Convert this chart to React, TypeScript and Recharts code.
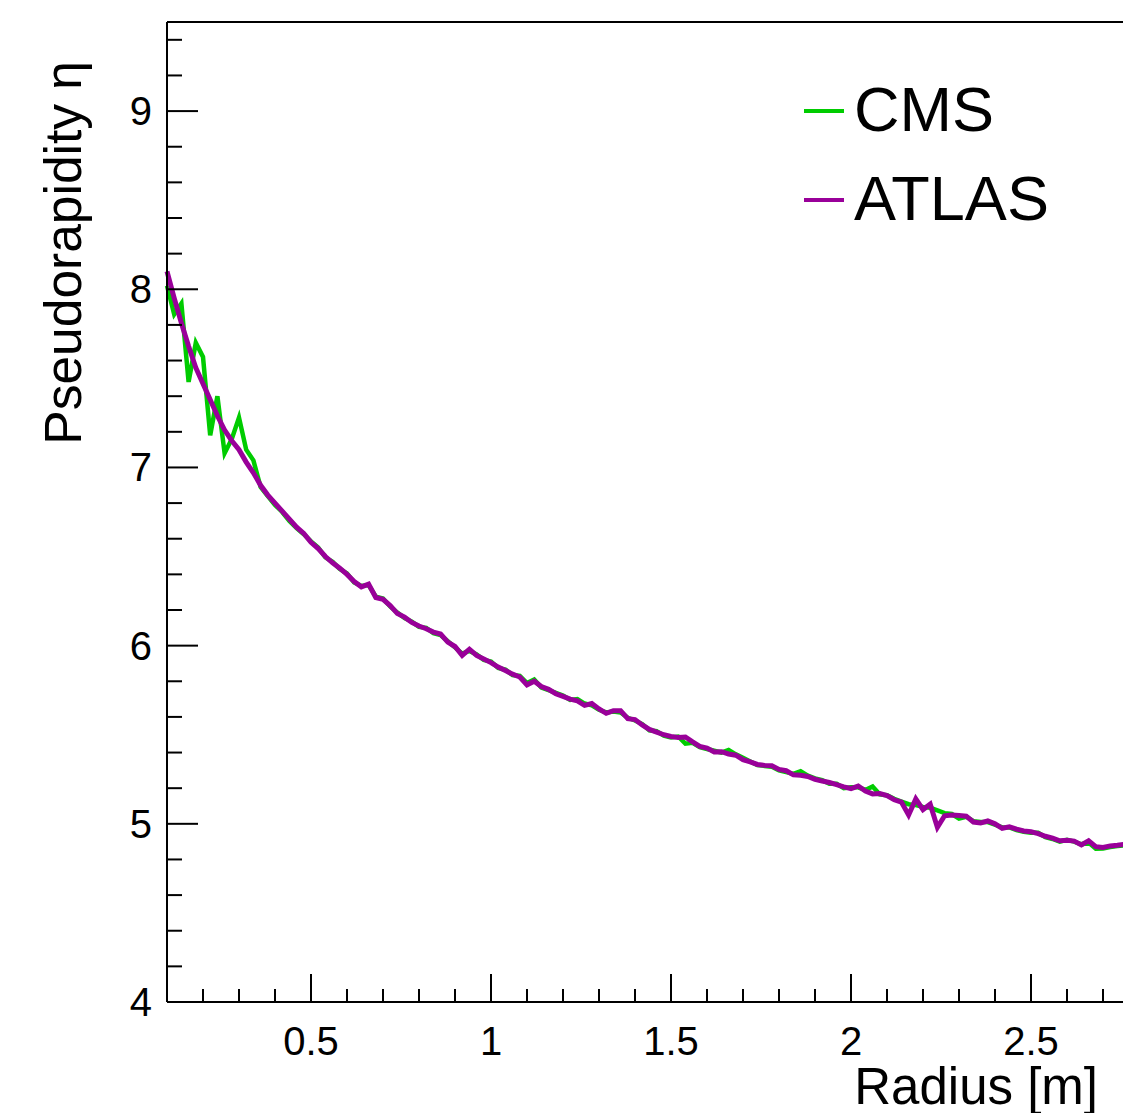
import React from "react";
import {
  LineChart,
  Line,
  XAxis,
  YAxis,
  Legend,
  ReferenceLine,
} from "recharts";

// Radius bins [m], every 0.02 m
const radius = [
  0.1, 0.12, 0.14, 0.16, 0.18, 0.2, 0.22, 0.24, 0.26, 0.28,
  0.3, 0.32, 0.34, 0.36, 0.38, 0.4, 0.42, 0.44, 0.46, 0.48,
  0.5, 0.52, 0.54, 0.56, 0.58, 0.6, 0.62, 0.64, 0.66, 0.68,
  0.7, 0.72, 0.74, 0.76, 0.78, 0.8, 0.82, 0.84, 0.86, 0.88,
  0.9, 0.92, 0.94, 0.96, 0.98, 1.0, 1.02, 1.04, 1.06, 1.08,
  1.1, 1.12, 1.14, 1.16, 1.18, 1.2, 1.22, 1.24, 1.26, 1.28,
  1.3, 1.32, 1.34, 1.36, 1.38, 1.4, 1.42, 1.44, 1.46, 1.48,
  1.5, 1.52, 1.54, 1.56, 1.58, 1.6, 1.62, 1.64, 1.66, 1.68,
  1.7, 1.72, 1.74, 1.76, 1.78, 1.8, 1.82, 1.84, 1.86, 1.88,
  1.9, 1.92, 1.94, 1.96, 1.98, 2.0, 2.02, 2.04, 2.06, 2.08,
  2.1, 2.12, 2.14, 2.16, 2.18, 2.2, 2.22, 2.24, 2.26, 2.28,
  2.3, 2.32, 2.34, 2.36, 2.38, 2.4, 2.42, 2.44, 2.46, 2.48,
  2.5, 2.52, 2.54, 2.56, 2.58, 2.6, 2.62, 2.64, 2.66, 2.68,
  2.7, 2.72, 2.74, 2.76,
];

const cmsEta = [
  8.02, 7.86, 7.92, 7.48, 7.7, 7.62, 7.18, 7.4, 7.08, 7.16,
  7.28, 7.1, 7.04, 6.89, 6.84, 6.79, 6.75, 6.7, 6.66, 6.625,
  6.585, 6.55, 6.495, 6.47, 6.43, 6.405, 6.355, 6.335, 6.34, 6.275,
  6.265, 6.22, 6.185, 6.155, 6.135, 6.105, 6.1, 6.07, 6.06, 6.025,
  5.99, 5.955, 5.97, 5.95, 5.92, 5.91, 5.875, 5.865, 5.835, 5.83,
  5.79, 5.81, 5.765, 5.75, 5.735, 5.72, 5.695, 5.7, 5.675, 5.665,
  5.64, 5.625, 5.63, 5.625, 5.595, 5.58, 5.56, 5.525, 5.52, 5.495,
  5.485, 5.49, 5.45, 5.455, 5.43, 5.42, 5.41, 5.4, 5.415, 5.39,
  5.37, 5.35, 5.33, 5.325, 5.32, 5.3, 5.29, 5.28, 5.295, 5.27,
  5.255, 5.245, 5.225, 5.225, 5.2, 5.205, 5.205, 5.19, 5.21, 5.165,
  5.16, 5.14, 5.125, 5.11, 5.105, 5.095, 5.09, 5.075, 5.06, 5.055,
  5.03, 5.04, 5.015, 5.01, 5.01, 4.995, 4.98, 4.98, 4.965, 4.955,
  4.95, 4.95, 4.925, 4.915, 4.9, 4.91, 4.9, 4.885, 4.895, 4.86,
  4.862, 4.87, 4.875, 4.88,
];

const atlasEta = [
  8.1, 7.95, 7.81, 7.68, 7.56, 7.47, 7.38, 7.29, 7.21, 7.15,
  7.1, 7.03, 6.97, 6.9, 6.845, 6.8, 6.755, 6.71, 6.665, 6.63,
  6.58, 6.545, 6.5, 6.465, 6.435, 6.4, 6.36, 6.33, 6.345, 6.27,
  6.26, 6.225, 6.18, 6.16, 6.13, 6.11, 6.095, 6.076, 6.065, 6.02,
  5.995, 5.945, 5.98, 5.945, 5.925, 5.905, 5.88, 5.86, 5.84, 5.824,
  5.78, 5.8, 5.77, 5.755, 5.73, 5.715, 5.7, 5.69, 5.665, 5.675,
  5.645, 5.62, 5.635, 5.635, 5.59, 5.585, 5.555, 5.53, 5.515, 5.5,
  5.49, 5.485, 5.487, 5.46, 5.435, 5.425, 5.403, 5.405, 5.392, 5.385,
  5.36, 5.347, 5.333, 5.328, 5.326, 5.305, 5.298, 5.275, 5.272, 5.266,
  5.25, 5.24, 5.232, 5.22, 5.207, 5.198, 5.212, 5.184, 5.168, 5.17,
  5.158, 5.135, 5.122, 5.05, 5.14, 5.08, 5.11, 4.98, 5.045, 5.05,
  5.047, 5.043, 5.01, 5.005, 5.016, 5.0, 4.975, 4.983, 4.97, 4.96,
  4.955, 4.945, 4.93, 4.92, 4.905, 4.908, 4.903, 4.882, 4.905, 4.872,
  4.867, 4.876, 4.88, 4.885,
];

const xTicks = [
  0.2, 0.3, 0.4, 0.5, 0.6, 0.7, 0.8, 0.9, 1.0, 1.1, 1.2, 1.3, 1.4, 1.5,
  1.6, 1.7, 1.8, 1.9, 2.0, 2.1, 2.2, 2.3, 2.4, 2.5, 2.6, 2.7, 2.8, 2.9, 3.0,
];
const xLabels = [0.5, 1, 1.5, 2, 2.5];
const yTicks = [
  4, 4.2, 4.4, 4.6, 4.8, 5, 5.2, 5.4, 5.6, 5.8, 6, 6.2, 6.4, 6.6, 6.8,
  7, 7.2, 7.4, 7.6, 7.8, 8, 8.2, 8.4, 8.6, 8.8, 9, 9.2, 9.4,
];

const data = radius.map((r, i) => ({ r, cms: cmsEta[i], atlas: atlasEta[i] }));

const FONT = "'Liberation Sans', Arial, Helvetica, sans-serif";
const GREEN = "#00cc00";
const PURPLE = "#990099";

// ROOT style: ticks point into the frame, labels only on the major ones
function XTick({ x, y, payload }: any) {
  const v = payload.value as number;
  const major = Math.abs(v * 2 - Math.round(v * 2)) < 1e-6;
  const labelled = xLabels.some((l) => Math.abs(l - v) < 1e-6);
  return (
    <g>
      <line x1={x} x2={x} y1={y} y2={y - (major ? 28 : 13)} stroke="#000" strokeWidth={2} />
      {labelled && (
        <text x={x} y={y + 53} textAnchor="middle" fontSize={40} fontFamily={FONT} fill="#000">
          {String(+v.toFixed(1))}
        </text>
      )}
    </g>
  );
}

function YTick({ x, y, payload }: any) {
  const v = payload.value as number;
  const major = Math.abs(v - Math.round(v)) < 1e-6;
  return (
    <g>
      <line x1={x} x2={x + (major ? 31 : 15)} y1={y} y2={y} stroke="#000" strokeWidth={2} />
      {major && (
        <text x={x - 15} y={y + 14} textAnchor="end" fontSize={40} fontFamily={FONT} fill="#000">
          {Math.round(v)}
        </text>
      )}
    </g>
  );
}

function XTitle() {
  return (
    <text x={1098} y={1104} textAnchor="end" fontSize={51} fontFamily={FONT} fill="#000">
      Radius [m]
    </text>
  );
}

function YTitle() {
  return (
    <text
      x={81}
      y={61}
      transform="rotate(-90, 81, 61)"
      textAnchor="end"
      fontSize={51.5}
      fontFamily={FONT}
      fill="#000"
    >
      Pseudorapidity η
    </text>
  );
}

function LegendBox() {
  return (
    <svg width={330} height={200}>
      <line x1={14} x2={54} y1={51} y2={51} stroke={GREEN} strokeWidth={4} />
      <text x={64} y={71} fontSize={63} fontFamily={FONT} fill="#000">CMS</text>
      <line x1={14} x2={54} y1={140} y2={140} stroke={PURPLE} strokeWidth={4} />
      <text x={64} y={160} fontSize={63} fontFamily={FONT} fill="#000">ATLAS</text>
    </svg>
  );
}

export default function App() {
  return (
    <div
      style={{
        position: "absolute",
        left: 0,
        top: 0,
        width: 1123,
        height: 1113,
        overflow: "hidden",
        background: "#fff",
      }}
    >
      <LineChart
        width={1221}
        height={1113}
        data={data}
        margin={{ top: 22, right: 10, left: 67, bottom: 51 }}
      >
        <XAxis
          dataKey="r"
          type="number"
          domain={[0.1, 3.0]}
          ticks={xTicks}
          interval={0}
          height={60}
          tickSize={0}
          tickMargin={0}
          tickLine={false}
          axisLine={{ stroke: "#000", strokeWidth: 2 }}
          tick={<XTick />}
          label={<XTitle />}
        />
        <YAxis
          type="number"
          domain={[4, 9.5]}
          ticks={yTicks}
          interval={0}
          width={100}
          tickSize={0}
          tickMargin={0}
          tickLine={false}
          axisLine={{ stroke: "#000", strokeWidth: 2 }}
          tick={<YTick />}
          label={<YTitle />}
        />
        <ReferenceLine y={9.5} stroke="#000" strokeWidth={2} />
        <Legend
          layout="horizontal"
          verticalAlign="middle"
          align="center"
          wrapperStyle={{ position: "absolute", left: 790, top: 60, width: 330, height: 200 }}
          content={() => <LegendBox />}
        />
        <Line
          dataKey="cms"
          type="linear"
          stroke={GREEN}
          strokeWidth={4.5}
          dot={false}
          isAnimationActive={false}
        />
        <Line
          dataKey="atlas"
          type="linear"
          stroke={PURPLE}
          strokeWidth={5}
          dot={false}
          isAnimationActive={false}
        />
      </LineChart>
    </div>
  );
}
